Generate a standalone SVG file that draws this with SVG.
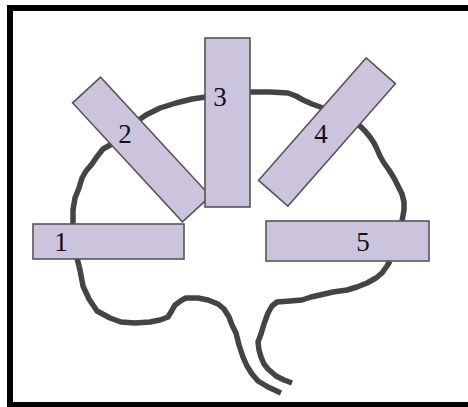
<svg xmlns="http://www.w3.org/2000/svg" width="468" height="407" viewBox="0 0 468 407">
  <style>
    .frame { fill: none; stroke: #000; stroke-width: 6; }
    .brain { fill: none; stroke: #444; stroke-width: 5.5; stroke-linejoin: round; stroke-linecap: butt; }
    .lobe rect { fill: #ccc3dd; stroke: #555; stroke-width: 1.6; }
    .lobe text { font-family: "Liberation Serif", "Times New Roman", serif; font-size: 27px; fill: #111; text-anchor: middle; }
  </style>

  <rect width="468" height="407" fill="#fff"/>
  <rect class="frame" x="10" y="8" width="470" height="397"/>

  <!-- hand-drawn brain outline -->
  <g id="connectors">
    <path class="brain" d="M206,97 L192,99 L176,103 L160,108 L146,115 L130,126 L112,144 L103,149 L96,158 L92,164 L86,171 L82,178 L79,188 L75,198 L73,210 L73,224"/>
    <path class="brain" d="M77,258 L80,270 L83,286 L89,299 L97,311 L110,318 L121,322 L135,323 L150,322 L160,320 L168,317 L171,312 L175,305 L182,300 L186,298 L198,298 L208,300 L218,304 L224,309 L229,317 L232,325 L236,333 L239,345 L243,357 L247,366 L252,374 L258,381 L268,387 L281,393"/>
    <path class="brain" d="M390,261 L387,266 L382,273 L376,278 L367,283 L357,287 L347,290 L333,292 L320,295 L311,297 L302,300 L290,301 L277,302 L272,306 L268,313 L264,324 L261,334 L258,342 L259,350 L261,357 L264,364 L268,369 L276,376 L284,380 L292,383"/>
    <path class="brain" d="M250,92 L270,92 L288,93 L296,96 L303,100 L312,104 L323,108"/>
    <path class="brain" d="M359,125 L365,131 L370,137 L374,143 L377,149 L380,156 L384,163 L389,170 L394,178 L398,186 L402,194 L404,202 L404,210 L402,221"/>
  </g>

  <!-- lobes -->
  <g id="lobe-1" class="lobe">
    <rect x="33" y="224" width="151" height="35"/>
    <text x="61" y="251">1</text>
  </g>
  <g id="lobe-2" class="lobe">
    <rect x="-81" y="-19" width="162" height="38" transform="translate(141.5,149.5) rotate(47.3)"/>
    <text x="125" y="143">2</text>
  </g>
  <g id="lobe-3" class="lobe">
    <rect x="205" y="38" width="45" height="169"/>
    <text x="220" y="106">3</text>
  </g>
  <g id="lobe-4" class="lobe">
    <rect x="-81.5" y="-19.5" width="163" height="39" transform="translate(327,132) rotate(-48.7)"/>
    <text x="321" y="143">4</text>
  </g>
  <g id="lobe-5" class="lobe">
    <rect x="266" y="221" width="163" height="40"/>
    <text x="363" y="251">5</text>
  </g>
</svg>
